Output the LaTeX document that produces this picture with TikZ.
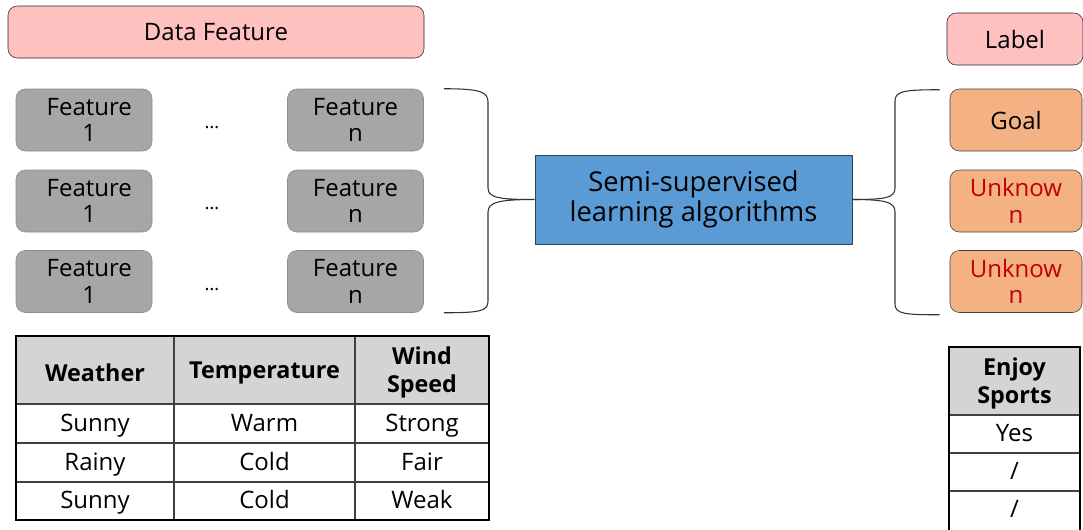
\documentclass[tikz,border=0pt]{standalone}
\usepackage{fontspec}
\setmainfont{Open Sans}
\usetikzlibrary{calc,positioning}
\definecolor{pinkfill}{HTML}{FFC0C0}
\definecolor{greyfill}{HTML}{A6A6A6}
\definecolor{algofill}{HTML}{5B9BD5}
\definecolor{goalfill}{HTML}{F4B183}
\definecolor{unkred}{HTML}{C00000}
\definecolor{headfill}{HTML}{D4D4D4}
\tikzset{%
  basebox/.style  = {shape=rectangle, rounded corners=7pt, draw, align=center,%
                     inner sep=2pt, font=\fontsize{18}{20}\selectfont},%
  titlebox/.style = {basebox, fill=pinkfill, draw=black!85, minimum height=39pt},%
  featbox/.style  = {basebox, fill=greyfill, draw=black!45,%
                     minimum width=102pt, minimum height=46.5pt},%
  goalbox/.style  = {basebox, fill=goalfill, draw=black!75,%
                     minimum width=99pt, minimum height=46.5pt},%
  algobox/.style  = {shape=rectangle, draw=black!55!algofill, fill=algofill,%
                     align=center, minimum width=237.75pt, minimum height=66.75pt,%
                     font=\fontsize{20.5}{22.5}\selectfont},%
  dotsnode/.style = {font=\fontsize{14}{16}\selectfont},%
  brace/.style    = {draw=black!80, line width=0.8pt},%
  headcell/.style = {align=center, font=\fontsize{17.5}{21}\selectfont\bfseries},%
  cell/.style     = {text height=15pt, text depth=3.5pt, font=\fontsize{18}{20}\selectfont},%
  tabinner/.style = {draw=black!75, line width=1.1pt},%
  tabouter/.style = {draw=black, line width=2pt}%
}
\begin{document}
\begin{tikzpicture}[x=0.75pt,y=-0.75pt]
\useasboundingbox (0,0) rectangle (1083,529);
% feature side
\node[titlebox, minimum width=312pt] (data) at (216,32) {Data Feature};
\foreach \y [count=\i] in {120,201,281.5}{%
  \node[featbox] (fa\i) at (84,\y) {\hspace*{8pt}Feature\\\hspace*{8pt}1};
  \node[featbox] (fn\i) at (355.5,\y) {Feature\\n};
  \node[dotsnode] (dots\i) at (212,\y+8) {\dots};
}
\node[algobox] (algo) at (693.5,199.5) {Semi-supervised\\learning algorithms};
% label side
\node[titlebox, minimum width=102pt] (label) at (1015,39) {Label};
\node[goalbox] (goal) at (1016,120) {Goal};
\node[goalbox, text=unkred] (unk1) at (1016,201) {Unknow\\n};
\node[goalbox, text=unkred] (unk2) at (1016,281.5) {Unknow\\n};
% braces
\coordinate (lb top) at ($(fn1.north east)+(20,0)$);
\coordinate (lb bot) at ($(fn3.south east)+(20,0)$);
\draw[brace] (lb top) .. controls +(37,0) and +(0,-10) .. (488,102) -- (488,188)
  .. controls +(0,10) and +(-35,0) .. (algo.west)
  .. controls +(-35,0) and +(0,-10) .. (488,212) -- (488,301)
  .. controls +(0,10) and +(37,0) .. (lb bot);
\coordinate (rb top) at ($(goal.north west)+(-10,1)$);
\coordinate (rb bot) at ($(unk2.south west)+(-10,2)$);
\draw[brace] (algo.east) .. controls +(33,0) and +(0,10) .. (895,188) -- (895,101)
  .. controls +(0,-10) and +(-35,0) .. (rb top);
\draw[brace] (algo.east) .. controls +(33,0) and +(0,-10) .. (895,212) -- (895,304)
  .. controls +(0,10) and +(-35,0) .. (rb bot);
% feature table
\fill[headfill] (16,336) rectangle (489,404);
\foreach \x in {174,355} \draw[tabinner] (\x,336) -- (\x,520);
\foreach \y in {404,443,482} \draw[tabinner] (16,\y) -- (489,\y);
\draw[tabouter] (16,336) rectangle (489,520);
\foreach \x/\txt [count=\i] in {95/Weather,264.5/Temperature,422/{Wind\\Speed}}
  \node[headcell] (head\i) at (\x,372.5) {\txt};
\foreach \y/\a/\b/\c [count=\r] in {423.5/Sunny/Warm/Strong,462.5/Rainy/Cold/Fair,501/Sunny/Cold/Weak}{%
  \node[cell] (row\r a) at (95,\y) {\a};
  \node[cell] (row\r b) at (264.5,\y) {\b};
  \node[cell] (row\r c) at (422,\y) {\c};
}
% label table
\fill[headfill] (949,347) rectangle (1080,415);
\foreach \y in {415,453,491} \draw[tabinner] (949,\y) -- (1080,\y);
\draw[tabouter] (949,347) rectangle (1080,534);
\node[headcell] (enjoy) at (1014.5,383) {Enjoy\\Sports};
\node[cell] (ans1) at (1014.5,434) {Yes};
\node[cell] (ans2) at (1014.5,472) {/};
\node[cell] (ans3) at (1014.5,510) {/};
\end{tikzpicture}
\end{document}
